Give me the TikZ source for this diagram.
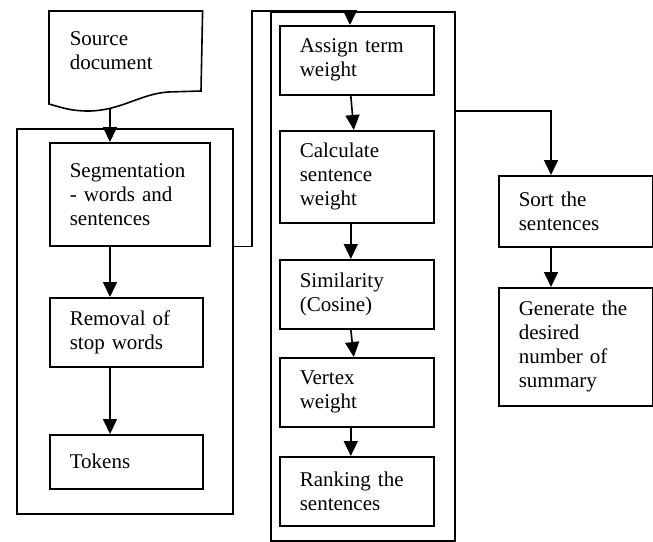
\documentclass[tikz,border=0pt]{standalone}
\usepackage{fontspec}
\setmainfont{Liberation Serif}
\usetikzlibrary{arrows.meta}
\tikzset{
	stage/.style={draw, anchor=north west, align=left, inner xsep=20pt, inner ysep=0pt, font=\fontsize{21}{24}\selectfont},
	group/.style={draw, anchor=north west, inner sep=0pt}
}
\begin{document}
\begin{tikzpicture}[x=1pt, y=-1pt, line width=1.6pt, >={Triangle[length=15pt,width=14pt]}]
		\useasboundingbox (0,0) rectangle (653,541);
		\node[group, minimum width=216pt, minimum height=385pt] (prep) at (16,128) {};
		\node[group, minimum width=184pt, minimum height=529pt] (rank) at (270,11) {};
		\node[stage, draw=none, text width=112pt, minimum height=78pt] (src) at (49,11) {Source\\document};
		\draw (src.north west) -- (src.north east) -- (201,91) -- (168,92) .. controls (140,94) and (120,111) .. (88,111) .. controls (70,111) and (60,107) .. (49,104) -- cycle;
		\coordinate (srcout) at (110,108);
		\node[stage, text width=120pt, minimum height=103pt] (seg) at (49,142) {Segmentation\\- words and\\sentences};
		\node[stage, text width=113pt, minimum height=69pt] (rem) at (49,297) {Removal of\\stop words};
		\node[stage, text width=113pt, minimum height=54pt] (tok) at (49,434) {Tokens};
		\node[stage, text width=114pt, minimum height=69pt] (assign) at (279,25) {Assign term\\weight};
		\node[stage, text width=114pt, minimum height=92pt] (calc) at (279,130) {Calculate\\sentence\\weight};
		\node[stage, text width=114pt, minimum height=69pt] (sim) at (279,259) {Similarity\\(Cosine)};
		\node[stage, text width=114pt, minimum height=69pt] (vert) at (279,357) {Vertex\\weight};
		\node[stage, text width=114pt, minimum height=69pt] (rnk) at (279,456) {Ranking the\\sentences};
		\node[stage, text width=114pt, minimum height=71pt] (sort) at (498,175) {Sort the\\sentences};
		\node[stage, text width=114pt, minimum height=118pt] (gen) at (498,287) {Generate the\\desired\\number of\\summary};
		\path[->] (srcout) edge (srcout |- seg.north);
		\path[->] (seg.south -| srcout) edge (rem.north -| srcout);
		\path[->] (rem.south -| srcout) edge (tok.north -| srcout);
		\coordinate (lift) at (252,11);
		\coordinate (jointop) at (350,11);
		\draw[->] (prep.east |- seg.south) -| (lift) -- (jointop) -- (jointop |- assign.north);
		\path[->] ([xshift=-6pt]assign.south) edge ([xshift=-3pt]calc.north);
		\path[->] ([xshift=-6pt]calc.south) edge ([xshift=-6pt]sim.north);
		\path[->] ([xshift=-6pt]sim.south) edge ([xshift=-3pt]vert.north);
		\path[->] ([xshift=-6pt]vert.south) edge ([xshift=-6pt]rnk.north);
		\coordinate (drop) at (551,111);
		\draw[->] (rank.east |- drop) -- (drop) -- (drop |- sort.north);
		\path[->] (sort.south -| drop) edge (gen.north -| drop);
	\end{tikzpicture}
\end{document}
